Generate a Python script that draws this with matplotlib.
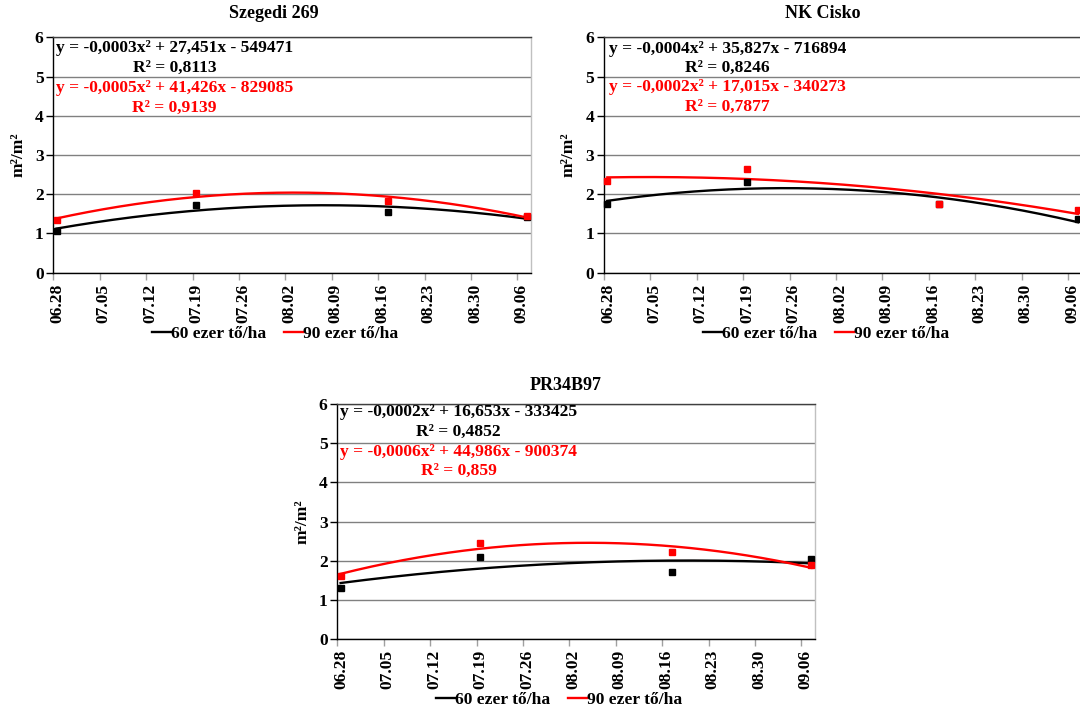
import matplotlib
matplotlib.use("Agg")
import matplotlib.pyplot as plt
from matplotlib.lines import Line2D
import numpy as np
import pandas as pd

plt.rcParams["font.family"] = ["Liberation Serif", "DejaVu Serif"]
plt.rcParams["font.weight"] = "bold"

# ---- data -------------------------------------------------------------
sample_dates = ["06.28", "07.19", "08.17", "09.07"]
tick_dates = ["06.28", "07.05", "07.12", "07.19", "07.26", "08.02",
              "08.09", "08.16", "08.23", "08.30", "09.06"]
axis_start, axis_end = "06.28", "09.08"
series_names = ["60 ezer tő/ha", "90 ezer tő/ha"]
series_colors = ["#000000", "#ff0000"]

titles = ["Szegedi 269", "NK Cisko", "PR34B97"]

szegedi_60 = [1.07, 1.72, 1.55, 1.43]
szegedi_90 = [1.34, 2.04, 1.83, 1.45]
cisko_60 = [1.76, 2.32, 1.74, 1.36]
cisko_90 = [2.33, 2.64, 1.76, 1.60]
pr_60 = [1.31, 2.09, 1.71, 2.05]
pr_90 = [1.60, 2.46, 2.21, 1.88]

equations = [
    ("y = -0,0003x² + 27,451x - 549471", "R² = 0,8113",
     "y = -0,0005x² + 41,426x - 829085", "R² = 0,9139"),
    ("y = -0,0004x² + 35,827x - 716894", "R² = 0,8246",
     "y = -0,0002x² + 17,015x - 340273", "R² = 0,7877"),
    ("y = -0,0002x² + 16,653x - 333425", "R² = 0,4852",
     "y = -0,0006x² + 44,986x - 900374", "R² = 0,859"),
]
panel_values = [(szegedi_60, szegedi_90), (cisko_60, cisko_90), (pr_60, pr_90)]


def day_of(md):
    m, d = md.split(".")
    return (pd.Timestamp(2012, int(m), int(d)) - pd.Timestamp(2012, 6, 28)).days


# ---- layout (pixels) --------------------------------------------------
W, H = 1080, 709
fig = plt.figure(figsize=(W / 100, H / 100), dpi=100)

# left, right, top, bottom of each plot area
boxes = [(53.3, 530.7, 37.5, 272.7),
         (604.0, 1081.4, 37.5, 272.7),
         (337.3, 814.7, 404.0, 639.0)]
title_xy = [(274, 14), (823, 14), (566, 385)]
ylabel_x = [19, 569, 303]
legend_xy = [(275, 334), (826, 334), (559, 700)]
eq_centers = [(174.5, [48, 68, 88, 108]),
              (727.5, [49, 68, 87, 107]),
              (458.5, [412, 432, 452, 471])]

FS = 12.6
grid_col = "#808080"

x0, x1 = day_of(axis_start), day_of(axis_end)
xs = np.array([day_of(d) for d in sample_dates]) + 0.5
tick_pos = np.array([day_of(d) for d in tick_dates])

for i, (l, r, t, b) in enumerate(boxes):
    ax = fig.add_axes([l / W, 1 - b / H, (r - l) / W, (b - t) / H])
    ax.set_xlim(x0, x1)
    ax.set_ylim(0, 6)
    ax.set_yticks(range(7))
    ax.set_yticklabels([str(v) for v in range(7)], fontsize=FS, fontweight="bold")
    ax.yaxis.grid(True, color=grid_col, linewidth=1.0)
    ax.set_axisbelow(True)

    # tick marks on day boundaries, date labels centred in their day slot
    ax.set_xticks(tick_pos)
    ax.set_xticklabels([])
    ax.set_xticks(tick_pos + 0.6, minor=True)
    ax.set_xticklabels(tick_dates, minor=True, rotation=90,
                       fontsize=FS, fontweight="bold")
    ax.tick_params(axis="y", length=5, width=1, color="#000000", pad=2)
    ax.tick_params(axis="x", which="major", length=5, width=1, color="#a0a0a0")
    ax.tick_params(axis="x", which="minor", length=0, pad=8)

    ax.spines["left"].set_color("#000000")
    ax.spines["bottom"].set_color("#000000")
    ax.spines["top"].set_color("#404040")
    ax.spines["right"].set_color("#c0c0c0")
    for s in ax.spines.values():
        s.set_linewidth(1.0)

    for vals, col, z in zip(panel_values[i], series_colors, (3, 4)):
        vals = np.asarray(vals)
        coef = np.polyfit(xs, vals, 2)
        xf = np.linspace(xs[0], xs[-1], 300)
        ax.plot(xf, np.polyval(coef, xf), color=col, linewidth=1.7, zorder=z)
        ax.plot(xs, vals, linestyle="none", marker="s", markersize=4.5,
                color=col, zorder=z + 2, clip_on=False)

    fig.text(title_xy[i][0] / W, 1 - title_xy[i][1] / H, titles[i],
             ha="center", va="center", fontsize=FS + 0.4, fontweight="bold")
    fig.text(ylabel_x[i] / W, 1 - ((t + b) / 2) / H, "m²/m²", rotation=90,
             ha="center", va="center", fontsize=FS, fontweight="bold")

    cx, ys = eq_centers[i]
    cols = ["#000000", "#000000", "#ff0000", "#ff0000"]
    for txt, yy, c in zip(equations[i], ys, cols):
        fig.text(cx / W, 1 - yy / H, txt, ha="center", va="center",
                 fontsize=FS, fontweight="bold", color=c)

    handles = [Line2D([], [], color=c, linewidth=1.7) for c in series_colors]
    lx, ly = legend_xy[i]
    ax.legend(handles, series_names, loc="center", ncol=2,
              bbox_to_anchor=(lx / W, 1 - ly / H), bbox_transform=fig.transFigure,
              frameon=False, handlelength=1.1, handletextpad=0.0,
              columnspacing=1.0, prop={"size": FS, "weight": "bold"},
              borderpad=0, borderaxespad=0)

fig.savefig("out.png", dpi=100, facecolor="white")
